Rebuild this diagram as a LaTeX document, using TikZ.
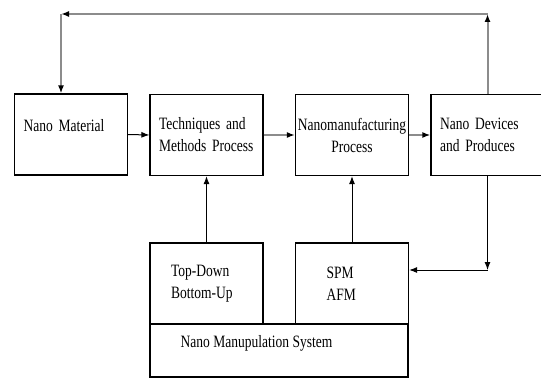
\documentclass[tikz,border=0pt]{standalone}
\usepackage{fontspec}
\setmainfont[FakeStretch=0.78]{Liberation Serif}
\usetikzlibrary{positioning, arrows.meta}

\begin{document}
\begin{tikzpicture}[
    x=0.75pt, y=-0.75pt,
    font=\fontsize{13pt}{16.5pt}\selectfont,
    box/.style={draw=black, line width=0.9pt, minimum width=84.75pt, minimum height=60.75pt,
        inner xsep=6.75pt, inner ysep=0pt, text width=71.25pt, align=left},
    link/.style={draw=black, line width=0.75pt, -{Latex[length=6pt, width=4.5pt]}},
    glink/.style={draw=black!45, line width=1.5pt, -{Latex[length=6pt, width=4.5pt, color=black]}}
]
    \useasboundingbox (0,0) rectangle (541,378);

    % main chain
    \node[box, text depth=14pt] (nm) at (71,134.5) {Nano Material};
    \node[box] (tech) at (206.5,135) {Techniques and\\Methods Process};
    \node[box, inner xsep=0pt, text width=84.75pt, align=center] (nmp) at (352,135) {Nanomanufacturing\\Process};
    \node[box] (dev) at (487.5,135) {Nano Devices\\and Produces};

    % manipulation system
    \node[box, inner xsep=15.75pt, text width=53.25pt] (td) at (206.5,283.5) {Top-Down\\Bottom-Up};
    \node[box, inner xsep=23.25pt, text width=38.25pt] (spm) at (352,283.5) {SPM\\AFM};
    \node[draw=black, line width=0.9pt, minimum width=193.5pt, minimum height=39.75pt,
        label={[anchor=base west, inner sep=0pt, xshift=23.25pt, yshift=-18pt]north west:Nano Manupulation System}]
        (nms) at (279,350.5) {};

    \draw[link] (nm.east) -- (tech.west);
    \draw[glink] (tech.east) -- (nmp.west);
    \draw[glink] (nmp.east) -- (dev.west);
    \draw[link] (td.north) -- (tech.south);
    \draw[link] (spm.north) -- (nmp.south);

    % feedback loop
    \coordinate (fbR) at (487.5,14);
    \coordinate (fbL) at (61,14);
    \draw[glink] (dev.north) -- (fbR);
    \draw[glink] (fbR) -- (fbL);
    \draw[glink] (fbL) -- (fbL |- nm.north);

    \coordinate (dn) at (487.5,270);
    \draw[link] (dev.south) -- (dn);
    \draw[link] (dn) -- (dn -| spm.east);
\end{tikzpicture}
\end{document}
